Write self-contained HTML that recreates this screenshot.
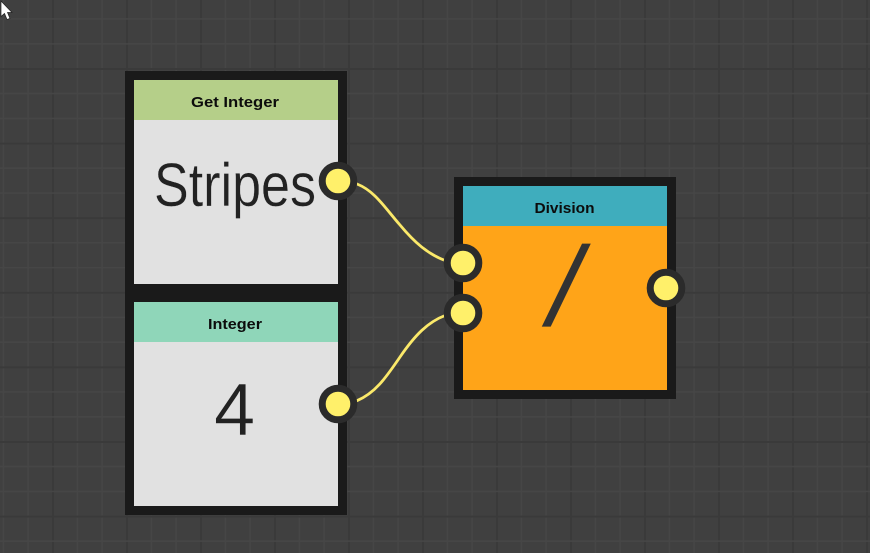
<!DOCTYPE html>
<html><head><meta charset="utf-8"><style>
html,body{margin:0;padding:0;background:#404040;width:870px;height:553px;overflow:hidden}
svg{display:block}
.t{font:bold 15px "Liberation Sans",sans-serif;fill:#0c0c0c;text-anchor:middle}
</style></head><body>
<svg width="870" height="553" viewBox="0 0 870 553" xmlns="http://www.w3.org/2000/svg">
<defs>
<pattern id="gx" width="74" height="553" patternUnits="userSpaceOnUse" x="52" y="0">
<rect x="0" y="0" width="2" height="553" fill="#3a3a3a"/>
<rect x="24.7" y="0" width="1.5" height="553" fill="#464646"/>
<rect x="49.3" y="0" width="1.5" height="553" fill="#464646"/>
</pattern>
<pattern id="gy" width="870" height="74.6" patternUnits="userSpaceOnUse" x="0" y="68">
<rect x="0" y="0" width="870" height="2" fill="#3a3a3a"/>
<rect x="0" y="24.8" width="870" height="1.5" fill="#464646"/>
<rect x="0" y="49.7" width="870" height="1.5" fill="#464646"/>
</pattern>
</defs>
<rect width="870" height="553" fill="#404040"/>
<rect width="870" height="553" fill="url(#gx)"/>
<rect width="870" height="553" fill="url(#gy)"/>

<path d="M1,1 L1,16.5 L4.5,13.5 L7,19.5 L10,18.5 L7.5,12.5 L12,12.5 Z" fill="#fff" stroke="#222" stroke-width="0.7"/>

<rect x="125" y="71" width="222" height="444" fill="#1a1a1a"/>
<rect x="134" y="80" width="204" height="40" fill="#b5cf89"/>
<rect x="134" y="120" width="204" height="164" fill="#e1e1e1"/>
<rect x="134" y="302" width="204" height="40" fill="#8fd6b9"/>
<rect x="134" y="342" width="204" height="164" fill="#e1e1e1"/>
<text class="t" x="235" y="107" textLength="88" lengthAdjust="spacingAndGlyphs">Get Integer</text>
<text class="t" x="235" y="329" textLength="54" lengthAdjust="spacingAndGlyphs">Integer</text>
<text x="154" y="206" font-family="'Liberation Sans',sans-serif" font-size="61" fill="#222" stroke="#e1e1e1" stroke-width="0.3" textLength="162" lengthAdjust="spacingAndGlyphs">Stripes</text>
<text x="214" y="435" font-family="'Liberation Sans',sans-serif" font-size="74" fill="#222" stroke="#e1e1e1" stroke-width="0.5">4</text>

<rect x="454" y="177" width="222" height="222" fill="#1a1a1a"/>
<rect x="463" y="186" width="204" height="40" fill="#3fadbd"/>
<rect x="463" y="226" width="204" height="164" fill="#ffa418"/>
<text class="t" x="564.5" y="213" textLength="60" lengthAdjust="spacingAndGlyphs">Division</text>
<text transform="translate(542,325.5) skewX(-12) scale(1,1)" x="0" y="0" font-family="'Liberation Sans',sans-serif" font-size="113" fill="#333">/</text>

<path d="M338,178 L357,184 C375,191 385,208 400,225 C415,243 428,254 445,260.5 L463,266" fill="none" stroke="#fbe96a" stroke-width="2.8"/>
<path d="M338,407 L357,400.7 C375,393 385,379 400,357 C415,335 428,322 445,315.5 L463,309" fill="none" stroke="#fbe96a" stroke-width="2.8"/>

<g fill="#fff06a" stroke="#2b2b2b" stroke-width="7">
<circle cx="338" cy="181" r="15.8"/>
<circle cx="338" cy="404" r="15.8"/>
<circle cx="463" cy="263" r="15.8"/>
<circle cx="463" cy="313" r="15.8"/>
<circle cx="666" cy="288" r="15.8"/>
</g>
</svg>
</body></html>
